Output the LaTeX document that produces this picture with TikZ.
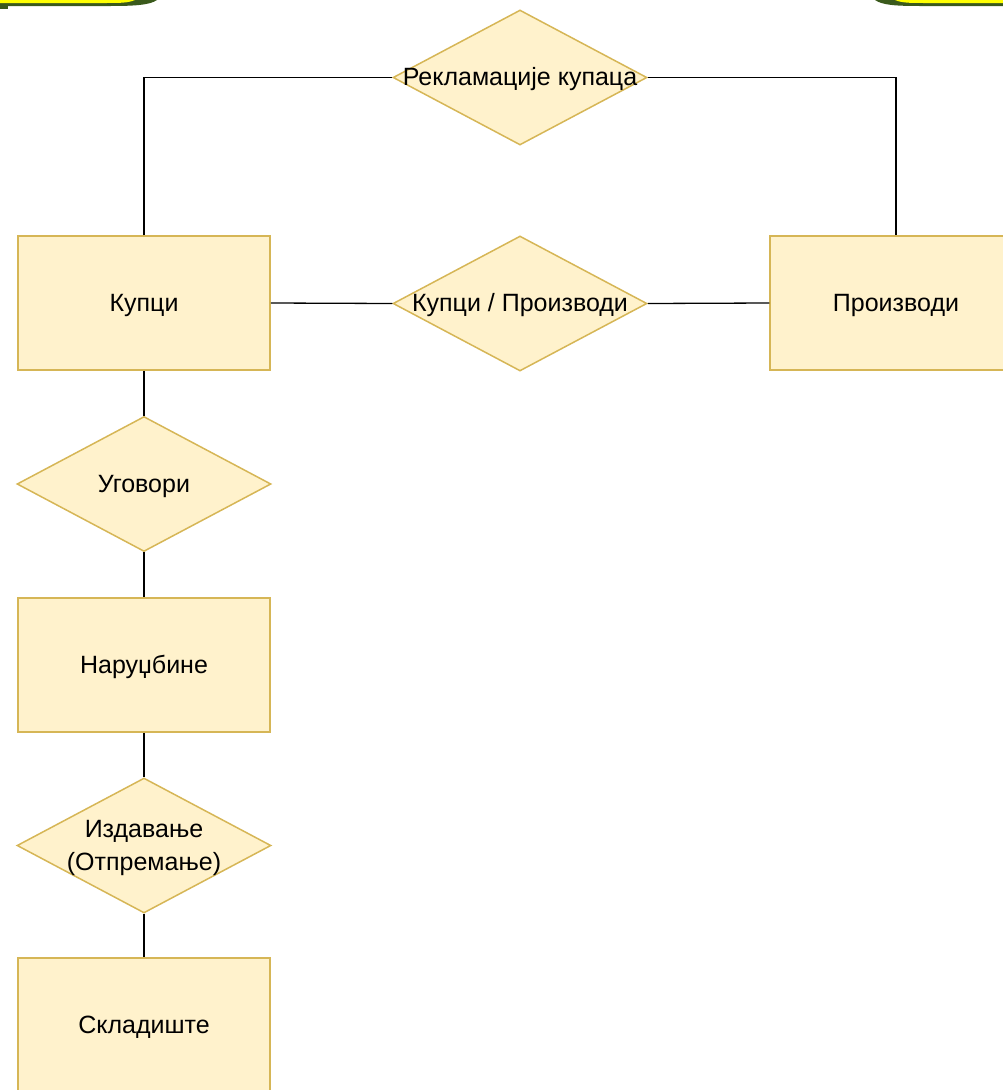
\documentclass[tikz,border=0pt]{standalone}
\usepackage{fontspec}
\setmainfont{Liberation Sans}
\usetikzlibrary{shapes.geometric}
\definecolor{efill}{HTML}{FFF2CC}
\definecolor{edraw}{HTML}{D6B656}
\definecolor{bgreen}{HTML}{3A5A1C}
\definecolor{byellow}{HTML}{FFFF00}
\tikzset{
  ent/.style={rectangle, draw=edraw, fill=efill, line width=1.5pt, minimum width=252pt, minimum height=134pt, inner sep=0pt},
  rel/.style={diamond, draw=edraw, fill=efill, line width=1.5pt, minimum width=254pt, minimum height=135pt, inner sep=0pt},
  lbl/.style={font=\fontsize{25}{33}\selectfont, align=center, text=black, inner sep=0pt, yshift=-2pt},
  conn/.style={draw=black, line width=1.3pt}
}
\begin{document}
\begin{tikzpicture}[x=1pt,y=-1pt]
\useasboundingbox (0,0) rectangle (1003,1090);
\clip (0,0) rectangle (1003,1090);
% top corner banners
\fill[bgreen] (0,0) -- (157,0) .. controls (150,5) and (135,6) .. (110,6) -- (0,6) -- cycle;
\fill[byellow] (0,0) -- (135,0) .. controls (128,3) and (120,3) .. (105,3) -- (0,3) -- cycle;
\fill[bgreen] (0,5) rectangle (8,9);
\fill[bgreen] (1003,0) -- (875,0) .. controls (882,5) and (895,6) .. (920,6) -- (1003,6) -- cycle;
\fill[byellow] (1003,0) -- (895,0) .. controls (902,3) and (910,3) .. (925,3) -- (1003,3) -- cycle;
% shapes
\node[rel] (rk) at (520,77.5) {};
\node[ent] (ku) at (144,303) {};
\node[rel] (kp) at (520,303.5) {};
\node[ent] (pr) at (896,303) {};
\node[rel] (ug) at (144,484) {};
\node[ent] (na) at (144,665) {};
\node[rel] (iz) at (144,845.5) {};
\node[ent] (sk) at (144,1025) {};
% connectors
\draw[conn] (ku.north) |- (rk.west);
\draw[conn] (rk.east) -| (pr.north);
\draw[conn] (ku.east) -- (kp.west);
\draw[conn] (kp.east) -- (pr.west);
\draw[conn] (ku.south) -- (ug.north);
\draw[conn] (ug.south) -- (na.north);
\draw[conn] (na.south) -- (iz.north);
\draw[conn] (iz.south) -- (sk.north);
% labels
\node[lbl] (rkl) at (rk) {Рекламације купаца};
\node[lbl] (kul) at (ku) {Купци};
\node[lbl] (kpl) at (kp) {Купци / Производи};
\node[lbl] (prl) at (pr) {Производи};
\node[lbl] (ugl) at (ug) {Уговори};
\node[lbl] (nal) at (na) {Наруџбине};
\node[lbl] (izl) at (iz) {Издавање\\(Отпремање)};
\node[lbl] (skl) at (sk) {Складиште};
\end{tikzpicture}
\end{document}
